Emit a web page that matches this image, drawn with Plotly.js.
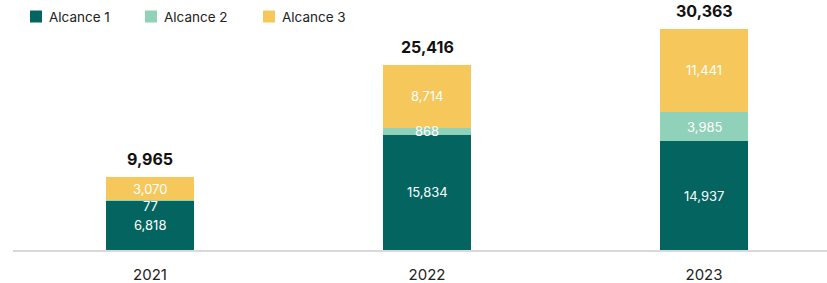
<!DOCTYPE html>
<html><head><meta charset="utf-8">
<script src="https://cdn.plot.ly/plotly-3.0.1.min.js"></script>
<style>html,body{margin:0;padding:0;background:#fff}#chart{width:827px;height:283px}</style>
</head><body><div id="chart"></div>
<script>
const years = ['2021', '2022', '2023'];
const alcance1 = [6818, 15834, 14937];
const alcance2 = [77, 868, 3985];
const alcance3 = [3070, 8714, 11441];
const totals = [9965, 25416, 30363];
const seriesNames = ['Alcance 1', 'Alcance 2', 'Alcance 3'];
const colors = ['#036460', '#8fd2b9', '#f6c85b'];

const FONT = 'Inter, "DejaVu Sans", sans-serif';
const fmt = v => String(v).replace(/\B(?=(\d{3})+(?!\d))/g, ',');
const W = 827, H = 283;
const M = {l: 13, r: 0, t: 13, b: 33};
const PW = W - M.l - M.r, PH = H - M.t - M.b;

const series = [alcance1, alcance2, alcance3];
const traces = series.map((vals, i) => ({
  type: 'bar', x: years, y: vals, name: seriesNames[i],
  marker: {color: colors[i], line: {width: 0}},
  width: 0.318, hoverinfo: 'skip', textposition: 'none', showlegend: false
}));

const annotations = [];
const shapes = [];
years.forEach((yr, j) => {
  let base = 0;
  series.forEach((vals, i) => {
    const v = vals[j];
    const mid = base + v / 2;
    const yshift = (i === 1 && j === 0) ? -6 : 0;
    annotations.push({x: j, y: mid, xref: 'x', yref: 'y', text: fmt(v), showarrow: false,
      yshift: yshift, font: {family: FONT, size: 13, color: '#ffffff'}});
    base += v;
  });
  annotations.push({x: j, y: totals[j], xref: 'x', yref: 'y', text: '<b>' + fmt(totals[j]) + '</b>',
    showarrow: false, yanchor: 'bottom', yshift: 6, font: {family: FONT, size: 16, color: '#111111'}});
});

// custom legend, positioned in page pixels converted to paper units
const legendX = [30, 145, 263];
const px = x => (x - M.l) / PW;
const py = y => (H - M.b - y) / PH;
seriesNames.forEach((nm, i) => {
  shapes.push({type: 'rect', xref: 'paper', yref: 'paper',
    x0: px(legendX[i]), x1: px(legendX[i] + 12), y0: py(22.5), y1: py(10.5),
    fillcolor: colors[i], line: {width: 0}});
  annotations.push({xref: 'paper', yref: 'paper', x: px(legendX[i] + 17), y: py(16.5),
    xanchor: 'left', yanchor: 'middle', text: nm, showarrow: false,
    font: {family: FONT, size: 13.5, color: '#222222'}});
});

const layout = {
  width: W, height: H,
  margin: Object.assign({autoexpand: false}, M),
  paper_bgcolor: '#ffffff', plot_bgcolor: '#ffffff',
  barmode: 'stack', bargap: 0,
  font: {family: FONT, color: '#222222'},
  showlegend: false,
  xaxis: {type: 'category', range: [-0.4946, 2.444], showgrid: false, zeroline: false,
    showline: true, linecolor: '#d9d9d9', linewidth: 2, ticks: '', ticklabelstandoff: 10,
    tickfont: {family: FONT, size: 15, color: '#222222'}, fixedrange: true},
  yaxis: {range: [0, 32500], visible: false, showgrid: false, zeroline: false, fixedrange: true},
  annotations: annotations,
  shapes: shapes
};

Plotly.newPlot('chart', traces, layout, {displayModeBar: false});
</script></body></html>
